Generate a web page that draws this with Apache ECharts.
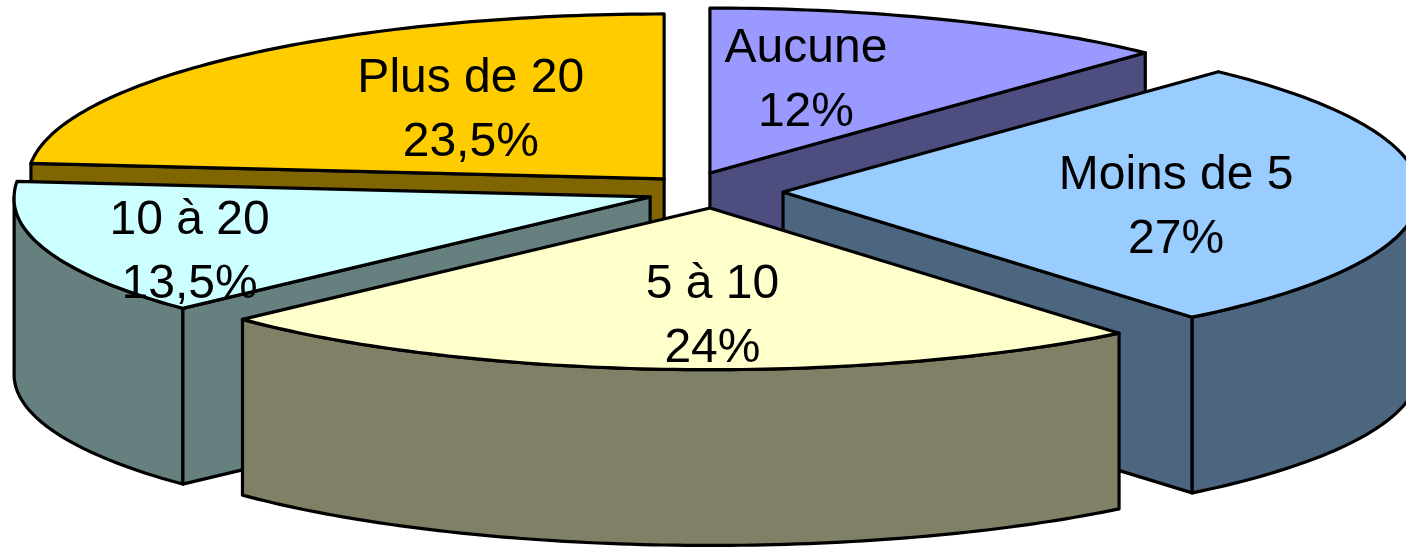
<!DOCTYPE html>
<html><head><meta charset="utf-8">
<style>html,body{margin:0;padding:0;background:#fff}#c{width:1406px;height:547px}</style>
<script src="https://cdn.jsdelivr.net/npm/echarts@6/dist/echarts.min.js"></script>
</head><body><div id="c"></div>
<script>
// Data, clockwise from 12 o'clock
const categories = ['Aucune', 'Moins de 5', '5 à 10', '10 à 20', 'Plus de 20'];
const shares = [12, 27, 24, 13.5, 23.5];
const shareLabels = ['12%', '27%', '24%', '13,5%', '23,5%'];

// Styling and layout, in units of the pie radius
const topColors = ['#9999FF', '#99CCFF', '#FFFFCC', '#CCFFFF', '#FFCC00'];
const wallColors = ['#4D4D80', '#4D6680', '#808066', '#668080', '#806600'];
const explodeX = [-0.008, 0.107, -0.008, -0.102, -0.080];
const explodeY = [0.112, -0.003, -0.100, -0.033, 0.076];
const labelX = [0.143, 0.725, -0.004, -0.826, -0.384];
const labelY = [0.673, -0.10, -0.76, -0.37, 0.488];
const drawOrder = [0, 4, 1, 3, 2];
const depth = 1.065;
const perspective = 0.012, frontSquash = 0.02;
const rx = 636, ry = 165, cx = 715, cy = 191.5;
const W = 1406, H = 547;
const INK = '#000', LW = 3.2;

const startDeg = [];
let acc = 0;
shares.forEach(s => { startDeg.push(acc); acc += s * 3.6; });
const pt = (i, deg, r, z) => {
  const t = deg * Math.PI / 180;
  const x = r * Math.sin(t), y = r * Math.cos(t);
  const px = y < 0 ? x * (1 - perspective * y) : x;
  const py = y < 0 ? y * (1 + frontSquash * y) : y;
  return [explodeX[i] + px, explodeY[i] + py - z];
};
const arc = (i, a, b, z) => {
  const out = [];
  const n = Math.max(1, Math.ceil(Math.abs(b - a)));
  for (let k = 0; k <= n; k++) out.push(pt(i, a + (b - a) * k / n, 1, z));
  return out;
};

function renderSlice(params, api) {
  const i = api.value(0);
  const a = startDeg[i], b = a + shares[i] * 3.6;
  const c = p => api.coord(p);
  const poly = (pts, fill) => ({
    type: 'polygon',
    shape: { points: pts.map(c) },
    style: { fill, stroke: INK, lineWidth: LW, lineJoin: 'round' }
  });
  const children = [];
  const radialWall = d => poly([pt(i, 0, 0, 0), pt(i, d, 1, 0), pt(i, d, 1, depth), pt(i, 0, 0, depth)], wallColors[i]);
  if (Math.sin(a * Math.PI / 180) < -1e-6) children.push(radialWall(a));
  if (Math.sin(b * Math.PI / 180) > 1e-6) children.push(radialWall(b));
  const fa = Math.max(a, 90), fb = Math.min(b, 270);
  if (fb > fa) {
    children.push(poly(arc(i, fa, fb, 0).concat(arc(i, fb, fa, depth)), wallColors[i]));
  }
  children.push(poly([pt(i, 0, 0, 0)].concat(arc(i, a, b, 0)), topColors[i]));
  return { type: 'group', children };
}

function renderLabel(params, api) {
  const i = api.value(0);
  const p = api.coord([labelX[i], labelY[i]]);
  return {
    type: 'text',
    style: {
      x: p[0], y: p[1],
      text: categories[i] + '\n' + shareLabels[i],
      font: '48px "Liberation Sans", Arial, sans-serif',
      lineHeight: 64, fill: '#000', align: 'center', verticalAlign: 'middle'
    }
  };
}

const chart = echarts.init(document.getElementById('c'), null, { renderer: 'canvas' });
chart.setOption({
  animation: false,
  backgroundColor: '#fff',
  grid: { left: 0, right: 0, top: 0, bottom: 0 },
  xAxis: { type: 'value', show: false, min: -cx / rx, max: (W - cx) / rx },
  yAxis: { type: 'value', show: false, min: -(H - cy) / ry, max: cy / ry },
  series: [
    { type: 'custom', coordinateSystem: 'cartesian2d', silent: true, clip: true, z: 2,
      renderItem: renderSlice, encode: { x: [], y: [] }, data: drawOrder.map(i => [i]) },
    { type: 'custom', coordinateSystem: 'cartesian2d', silent: true, clip: false, z: 3,
      renderItem: renderLabel, encode: { x: [], y: [] }, data: categories.map((_, i) => [i]) }
  ]
});
</script></body></html>
